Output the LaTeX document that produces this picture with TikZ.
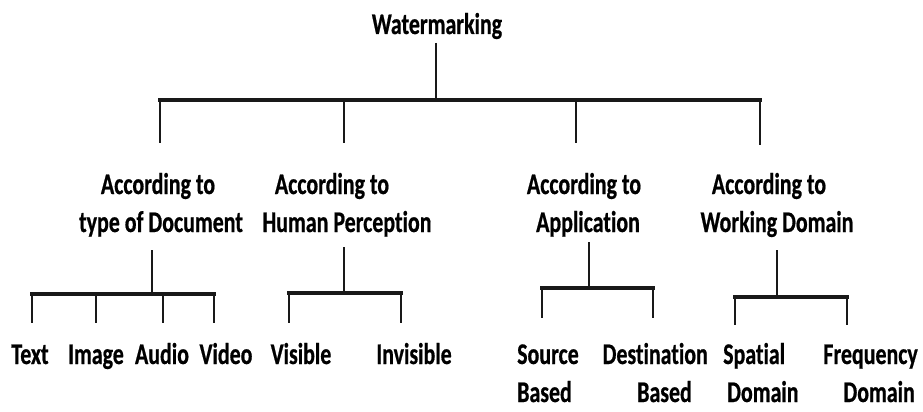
\documentclass[tikz,border=0pt]{standalone}
\usepackage{fontspec}
\newfontfamily\lblfont{Carlito}[FakeStretch=0.73, FakeBold=0.6, Ligatures=NoCommon]
\begin{document}
\begin{tikzpicture}[x=1pt,y=-1pt,
  lbl/.style={font=\lblfont\bfseries\fontsize{30pt}{38pt}\selectfont, inner sep=0pt, anchor=base, text=black},
  stem/.style={draw=black!90, line width=2.2pt},
  bar/.style={draw=black!90, line width=3.6pt, line cap=rect}]
\useasboundingbox (0,0) rectangle (923,412);

% root
\node[lbl] (wm) at (437,34) {Watermarking};

% second level (anchored on the baseline of the last line)
\node[lbl, align=center] (doc)  at (161,232) {According to\hspace*{6pt}\\type of Document};
\node[lbl, align=center] (perc) at (347,232) {According to\hspace*{30pt}\\Human Perception};
\node[lbl, align=center] (app)  at (588,232) {According to\hspace*{8pt}\\Application};
\node[lbl, align=center] (dom)  at (777,232) {According to\hspace*{16pt}\\Working Domain};

% third level
\node[lbl] (text)  at (30,364)  {Text};
\node[lbl] (image) at (96,364)  {Image};
\node[lbl] (audio) at (162,364) {Audio};
\node[lbl] (video) at (226,364) {Video};
\node[lbl] (vis)   at (301,364) {Visible};
\node[lbl] (invis) at (414,364) {Invisible};
\node[lbl, align=left, anchor=base west]  (src)  at (517,402) {Source\\Based};
\node[lbl, align=right, anchor=base east] (dst)  at (708,402) {Destination\\Based\hspace*{16pt}};
\node[lbl, align=left, anchor=base west]  (spa)  at (723,402) {Spatial\\\hspace*{4pt}Domain};
\node[lbl, align=right, anchor=base east] (freq) at (918,402) {Frequency\\Domain\hspace*{3pt}};

% junction points of the root
\coordinate (wmTop) at (436,43);
\coordinate (wmJ)   at (436,100);
\coordinate (bL)    at (160,100);
\coordinate (bR)    at (760,100);
\coordinate (j2)    at (344,100);
\coordinate (j3)    at (576,100);
\coordinate (e1) at (160,143);
\coordinate (e2) at (344,143);
\coordinate (e3) at (576,143);
\coordinate (e4) at (760,145);

\draw[stem] (wmTop) -- (wmJ);
\draw[bar] (bL) -- (bR);
\draw[stem] (bL) -- (e1);
\draw[stem] (j2) -- (e2);
\draw[stem] (j3) -- (e3);
\draw[stem] (bR) -- (e4);

% document type branch
\coordinate (dTop) at (152,250);
\coordinate (dJ)   at (152,294);
\coordinate (dL)   at (32,294);
\coordinate (dR)   at (214,294);
\coordinate (d2)   at (96,294);
\coordinate (d3)   at (163,294);
\draw[stem] (dTop) -- (dJ);
\draw[bar] (dL) -- (dR);
\foreach \p in {dL,d2,d3,dR}{\draw[stem] (\p) -- ++(0,29);}

% perception branch
\coordinate (pTop) at (344,247);
\coordinate (pJ)   at (344,293);
\coordinate (pL)   at (289,293);
\coordinate (pR)   at (401,293);
\draw[stem] (pTop) -- (pJ);
\draw[bar] (pL) -- (pR);
\foreach \p in {pL,pR}{\draw[stem] (\p) -- ++(0,30);}

% application branch
\coordinate (aTop) at (589,242);
\coordinate (aJ)   at (589,288);
\coordinate (aL)   at (542,288);
\coordinate (aR)   at (653,288);
\draw[stem] (aTop) -- (aJ);
\draw[bar] (aL) -- (aR);
\foreach \p in {aL,aR}{\draw[stem] (\p) -- ++(0,30);}

% working domain branch
\coordinate (wTop) at (777,250);
\coordinate (wJ)   at (777,297);
\coordinate (wL)   at (735,297);
\coordinate (wR)   at (847,297);
\draw[stem] (wTop) -- (wJ);
\draw[bar] (wL) -- (wR);
\foreach \p in {wL,wR}{\draw[stem] (\p) -- ++(0,28);}
\end{tikzpicture}
\end{document}
